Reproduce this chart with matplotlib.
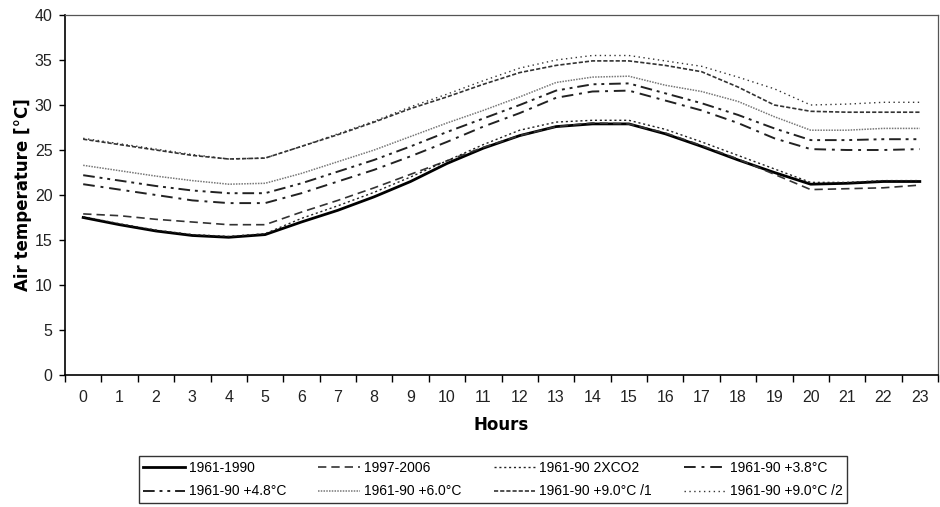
import numpy as np
import matplotlib
matplotlib.use("Agg")
import matplotlib.pyplot as plt

hours = list(range(24))

t_1961_1990 = [17.5, 16.7, 16.0, 15.5, 15.3, 15.6, 17.0, 18.3, 19.8, 21.5, 23.5, 25.2,
               26.6, 27.6, 27.9, 27.9, 26.8, 25.4, 23.9, 22.5, 21.2, 21.3, 21.5, 21.5]
t_1997_2006 = [17.9, 17.7, 17.3, 17.0, 16.7, 16.7, 18.1, 19.4, 20.8, 22.3, 23.8, 25.3,
               26.6, 27.6, 28.0, 27.9, 26.9, 25.5, 24.0, 22.3, 20.6, 20.7, 20.8, 21.1]
t_2xco2 = [17.6, 16.8, 16.1, 15.6, 15.4, 15.7, 17.4, 18.8, 20.3, 22.0, 23.8, 25.6,
           27.2, 28.1, 28.3, 28.3, 27.3, 25.9, 24.4, 22.9, 21.4, 21.4, 21.6, 21.6]
t_plus38 = [21.2, 20.6, 20.0, 19.4, 19.1, 19.1, 20.2, 21.5, 22.8, 24.3, 25.9, 27.6,
            29.1, 30.8, 31.5, 31.6, 30.5, 29.4, 28.0, 26.3, 25.1, 25.0, 25.0, 25.1]
t_plus48 = [22.2, 21.6, 21.0, 20.5, 20.2, 20.2, 21.3, 22.6, 23.9, 25.4, 27.0, 28.5,
            30.0, 31.6, 32.3, 32.4, 31.3, 30.2, 28.9, 27.4, 26.1, 26.1, 26.2, 26.2]
t_plus60 = [23.3, 22.7, 22.1, 21.6, 21.2, 21.3, 22.4, 23.7, 25.0, 26.5, 28.0, 29.4,
            30.9, 32.5, 33.1, 33.2, 32.2, 31.5, 30.4, 28.7, 27.2, 27.2, 27.4, 27.4]
t_plus90_1 = [26.2, 25.6, 25.0, 24.4, 24.0, 24.1, 25.4, 26.7, 28.1, 29.6, 30.9, 32.3,
              33.6, 34.4, 34.9, 34.9, 34.4, 33.7, 32.0, 30.0, 29.3, 29.2, 29.2, 29.2]
t_plus90_2 = [26.3, 25.7, 25.1, 24.5, 24.0, 24.1, 25.4, 26.8, 28.2, 29.8, 31.2, 32.7,
              34.1, 35.0, 35.5, 35.5, 34.9, 34.3, 33.1, 31.8, 30.0, 30.1, 30.3, 30.3]

labels = ["1961-1990", "1997-2006", "1961-90 2XCO2", "1961-90 +3.8°C",
          "1961-90 +4.8°C", "1961-90 +6.0°C", "1961-90 +9.0°C /1", "1961-90 +9.0°C /2"]

fig = plt.figure(figsize=(9.4, 5.07), dpi=100)
ax = fig.add_axes([65 / 940, 132 / 507, 873 / 940, 360 / 507])

lines = []
l, = ax.plot(hours, t_1961_1990, color="black", lw=2.0)
lines.append(l)
l, = ax.plot(hours, t_1997_2006, color="#333333", lw=1.2, ls=(0, (5, 3)))
lines.append(l)
l, = ax.plot(hours, t_2xco2, color="#222222", lw=1.0, ls=(0, (1.5, 2)))
lines.append(l)
l, = ax.plot(hours, t_plus38, color="#222222", lw=1.4, ls=(0, (6, 3, 1.5, 3)))
lines.append(l)
l, = ax.plot(hours, t_plus48, color="#222222", lw=1.4, ls=(0, (6, 2.5, 1.5, 2.5, 1.5, 2.5)))
lines.append(l)
l, = ax.plot(hours, t_plus60, color="#777777", lw=1.1, ls=(0, (1, 0.8)))
lines.append(l)
l, = ax.plot(hours, t_plus90_1, color="#333333", lw=1.2, ls=(0, (2.5, 1.2)))
lines.append(l)
l, = ax.plot(hours, t_plus90_2, color="#333333", lw=1.0, ls=(0, (1, 2.5)))
lines.append(l)

ax.set_xlim(-0.5, 23.5)
ax.set_ylim(0, 40)

# category labels sit between the tick marks, as in a spreadsheet line chart
ax.set_xticks(hours)
ax.set_xticklabels([str(h) for h in hours])
ax.set_xticks(np.arange(-0.5, 24, 1), minor=True)
ax.tick_params(axis="x", which="major", length=0, pad=11, labelsize=11.5)
ax.tick_params(axis="x", which="minor", length=5, width=1, direction="out")
ax.set_yticks(range(0, 41, 5))
ax.tick_params(axis="y", length=4, width=1, direction="out", pad=5, labelsize=11.5)
for t in ax.get_xticklabels() + ax.get_yticklabels():
    t.set_fontfamily("Liberation Sans")
    t.set_color("#222222")

for s in ["left", "bottom"]:
    ax.spines[s].set_color("black")
    ax.spines[s].set_linewidth(1.2)
for s in ["top", "right"]:
    ax.spines[s].set_color("#555555")
    ax.spines[s].set_linewidth(0.9)

ax.set_xlabel("Hours", fontsize=12, fontweight="bold", family="DejaVu Sans", labelpad=8)
ax.set_ylabel("Air temperature [°C]", fontsize=12, fontweight="bold", family="DejaVu Sans",
              labelpad=2)

# legend fills columns first, so reorder to read across rows
order = [0, 4, 1, 5, 2, 6, 3, 7]
leg = fig.legend([lines[i] for i in order], [labels[i] for i in order],
                 loc="center", bbox_to_anchor=(493 / 940, 1 - 479.5 / 507), ncol=4,
                 prop={"family": "Liberation Sans", "size": 10},
                 frameon=True, fancybox=False, edgecolor="black",
                 handlelength=3.0, handletextpad=0.3, columnspacing=2.3,
                 labelspacing=0.7, borderpad=0.3)
leg.get_frame().set_linewidth(1.0)

plt.savefig("out.png", dpi=100)
